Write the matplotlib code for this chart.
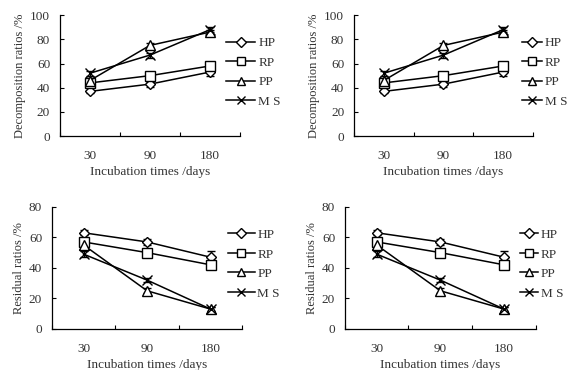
import matplotlib
matplotlib.use("Agg")
import matplotlib.pyplot as plt
from matplotlib.lines import Line2D
import numpy as np

plt.rcParams['font.family'] = ['Liberation Serif', 'DejaVu Serif']

categories = ["30", "90", "180"]
series = ["HP", "RP", "PP", "M S"]
markers = ["D", "s", "^", "x"]

decomp = {
    "HP": [37, 43, 53],
    "RP": [44, 50, 58],
    "PP": [46, 75, 86],
    "M S": [52, 67, 88],
}
decomp_err = {
    "HP": [1.5, 2, 3],
    "RP": [2, 2, 3],
    "PP": [2, 2, 2],
    "M S": [2, 2, 2],
}
resid = {
    "HP": [63, 57, 47],
    "RP": [57, 50, 42],
    "PP": [55, 25, 13],
    "M S": [49, 32, 13],
}
resid_err = {
    "HP": [1.5, 2, 4],
    "RP": [2, 2, 3],
    "PP": [2, 1.5, 1.5],
    "M S": [2, 1.5, 1.5],
}

fig = plt.figure(figsize=(5.7, 3.7), dpi=100)

def msize(m):
    return 5.5 if m == "D" else 6.5

def panel(rect, data, err, ymax, ylabel, leg_x, hlen):
    ax = fig.add_axes(rect)
    x = np.arange(len(categories)) + 0.5
    for s, m in zip(series, markers):
        ax.errorbar(x, data[s], yerr=err[s], color="black", lw=1.1,
                    marker=m, ms=msize(m), mfc="white", mec="black", mew=1.0,
                    capsize=3, elinewidth=1.0)
    ax.set_xlim(0, 3)
    ax.set_ylim(0, ymax)
    ax.set_yticks(np.arange(0, ymax + 1, 20))
    ax.set_xticks([0, 1, 2, 3])
    ax.set_xticklabels([])
    ax.set_xticks(x, minor=True)
    ax.set_xticklabels(categories, minor=True)
    ax.tick_params(axis="x", which="major", direction="in", length=3, width=0.8)
    ax.tick_params(axis="x", which="minor", length=0, pad=10, labelsize=9.5)
    ax.tick_params(axis="y", direction="in", length=3, width=0.8, pad=7, labelsize=9.5)
    ax.tick_params(axis="both", which="both", colors="black", labelcolor="#333333")
    for sp in ("top", "right"):
        ax.spines[sp].set_visible(False)
    for sp in ("left", "bottom"):
        ax.spines[sp].set_linewidth(0.9)
    ax.set_xlabel("Incubation times /days", fontsize=9.5, color="#333333", labelpad=3)
    ax.set_ylabel(ylabel, fontsize=9, color="#333333", labelpad=3)
    handles = [Line2D([], [], color="black", lw=1.1, marker=m, ms=msize(m) * 0.85,
                      mfc="white", mec="black", mew=1.0) for m in markers]
    ax.legend(handles, series, loc="upper left", bbox_to_anchor=(leg_x, 0.82),
              frameon=False, fontsize=9.5, handlelength=hlen, handletextpad=0.2,
              labelspacing=0.55, borderpad=0, borderaxespad=0,
              labelcolor="#333333")
    return ax

panel([0.105, 0.632, 0.316, 0.327], decomp, decomp_err, 100, "Decomposition ratios /%", 0.925, 2.2)
panel([0.621, 0.632, 0.314, 0.327], decomp, decomp_err, 100, "Decomposition ratios /%", 0.94, 1.5)
panel([0.091, 0.111, 0.334, 0.330], resid, resid_err, 80, "Residual ratios /%", 0.926, 2.0)
panel([0.605, 0.111, 0.335, 0.330], resid, resid_err, 80, "Residual ratios /%", 0.916, 1.4)

fig.savefig("out.png", dpi=100)
